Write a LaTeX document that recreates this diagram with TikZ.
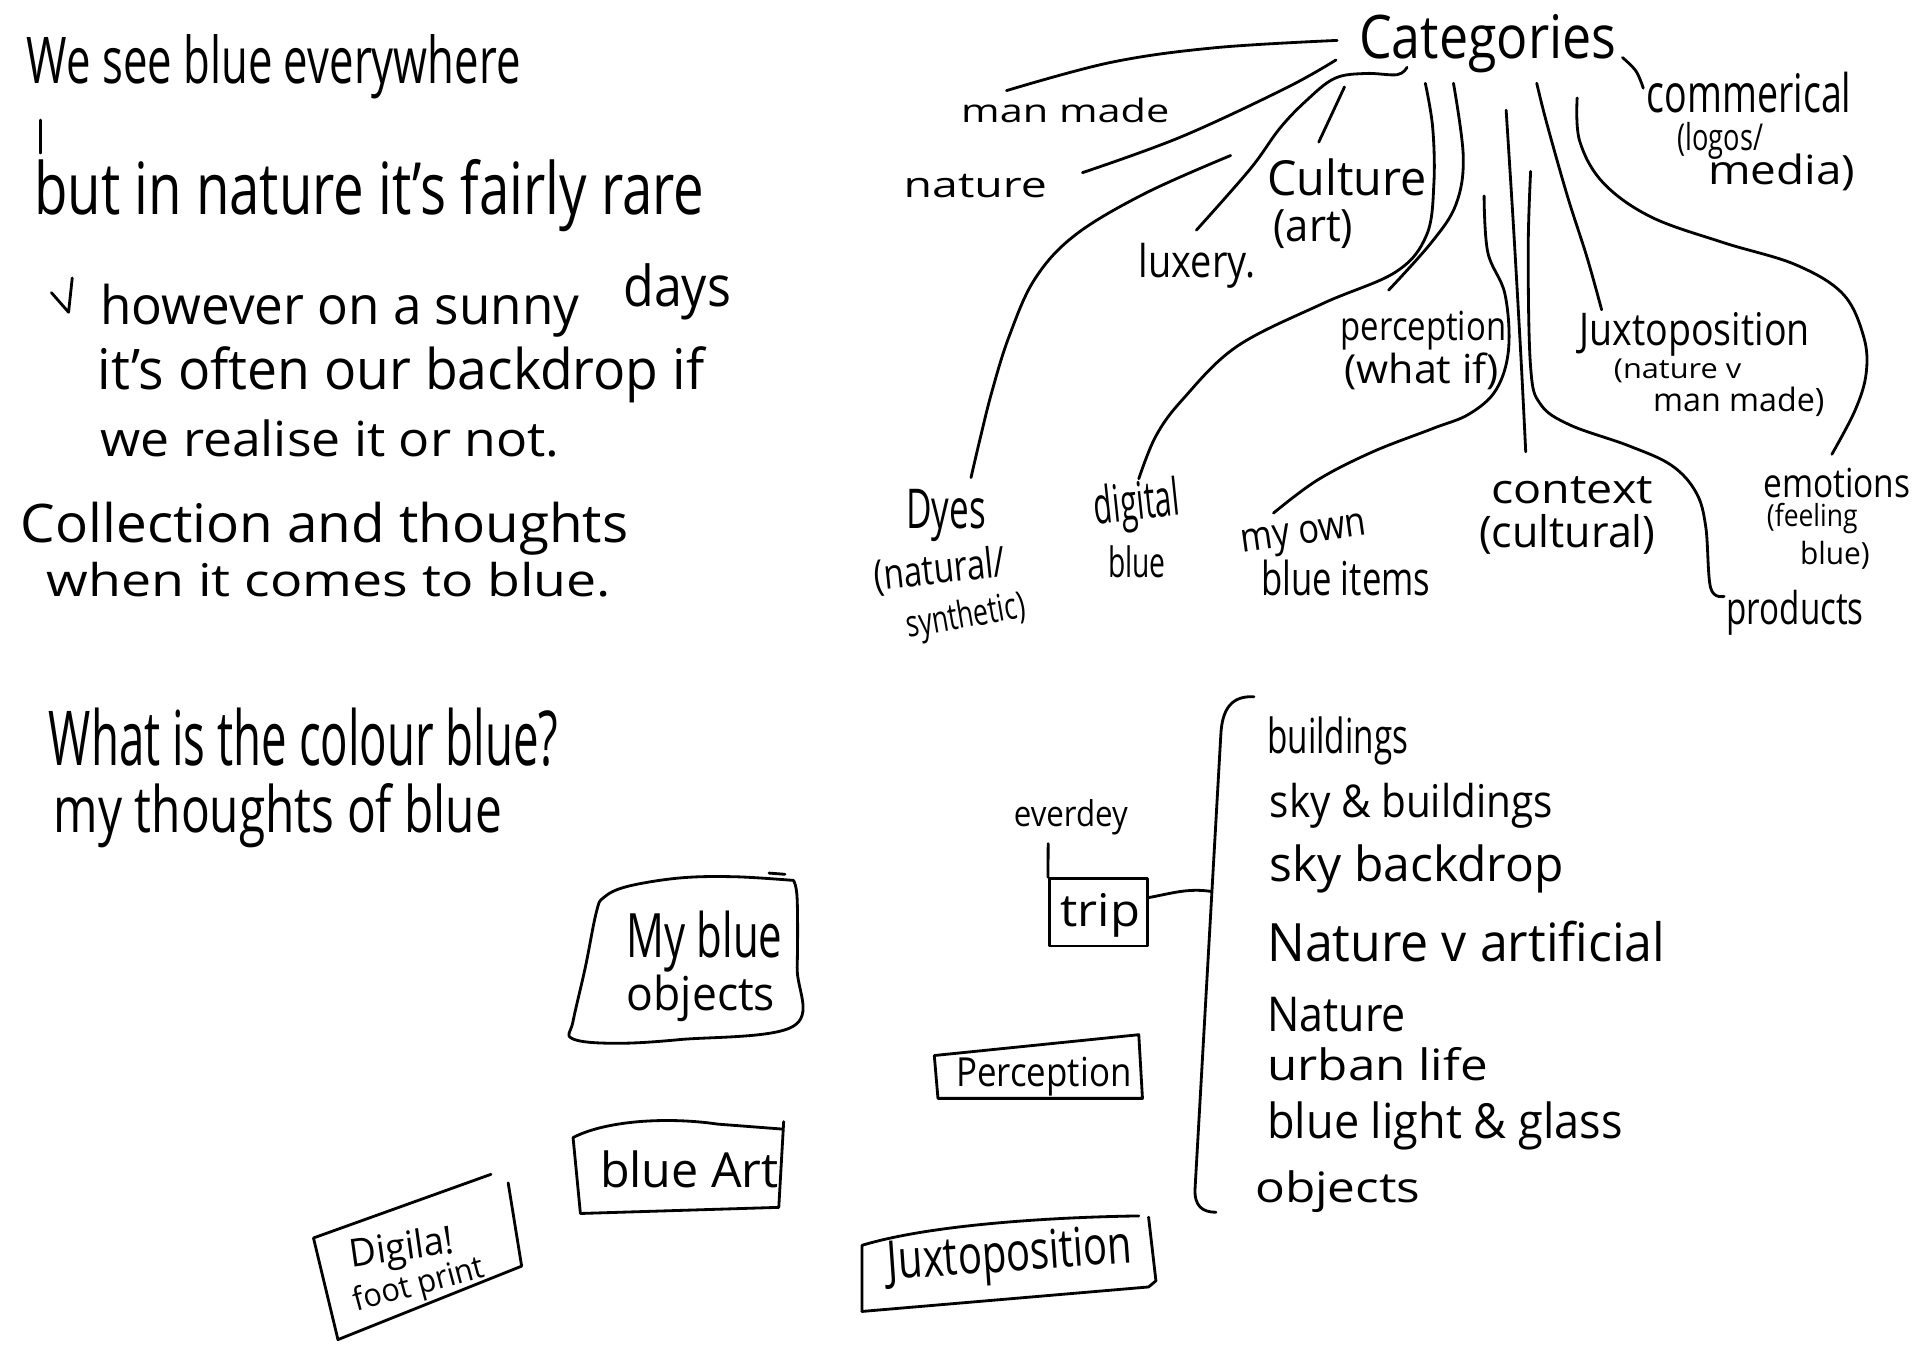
\documentclass[tikz,border=0pt]{standalone}
\usepackage{fontspec}
\setmainfont{Open Sans}
\usepackage{graphicx}
\newcommand{\handw}[3]{\resizebox{#1pt}{#2pt}{#3}}
\begin{document}
\begin{tikzpicture}[x=1pt,y=-1pt, line width=2.3pt, line cap=round, line join=round,
  hw/.style={anchor=base west, inner sep=0pt, outer sep=0pt},
  pen/.style={draw=black, line width=2.3pt},
  sm/.style={smooth, tension=0.6}]
\useasboundingbox[fill=white] (0,0) rectangle (1568,1108);

% ---------- left notes ----------
\node[hw] (t1) at (22,68) {\handw{403}{40}{We see blue everywhere}};
\coordinate (bar1) at (33,98);
\coordinate (bar2) at (33,125);
\draw (bar1) -- (bar2);
\node[hw] (t2) at (28,175) {\handw{547}{45}{but in nature it's fairly rare}};
\coordinate (ar1) at (42,239);
\coordinate (ar2) at (56,255);
\coordinate (ar3) at (59,227);
\draw (ar1) -- (ar2) -- (ar3);
\node[hw] (t3) at (82,265) {\handw{391}{33}{however on a sunny}};
\node[hw] (t3b) at (509,250) {\handw{88}{35}{days}};
\node[hw] (t4) at (80,318) {\handw{495}{35}{it's often our backdrop if}};
\node[hw] (t5) at (82,373) {\handw{375}{30}{we realise it or not.}};
\node[hw] (t6) at (17,443) {\handw{496}{33}{Collection and thoughts}};
\node[hw] (t7) at (38,487) {\handw{461}{28}{when it comes to blue.}};
\node[hw] (t8) at (40,625) {\handw{416}{47}{What is the colour blue?}};
\node[hw] (t9) at (44,680) {\handw{366}{40}{my thoughts of blue}};

% ---------- category tree ----------
\node[hw] (cat) at (1110,48) {\handw{210}{36}{Categories}};
\node[hw] (manmade) at (785,100) {\handw{170}{20}{man made}};
\node[hw] (nature) at (738,161) {\handw{117}{19}{nature}};
\node[hw] (culture) at (1035,160) {\handw{130}{30}{Culture}};
\node[hw] (art) at (1040,197) {\handw{65}{26}{(art)}};
\node[hw] (luxery) at (930,227) {\handw{95}{28}{luxery.}};
\node[hw] (comm) at (1345,92) {\handw{167}{33}{commerical}};
\node[hw] (logos) at (1370,123) {\handw{70}{23}{(logos/}};
\node[hw] (media) at (1395,151) {\handw{120}{25}{media)}};
\node[hw] (perc) at (1095,278) {\handw{135}{24}{perception}};
\node[hw] (whatif) at (1098,313) {\handw{126}{25}{(what if)}};
\node[hw] (juxt) at (1290,282) {\handw{188}{27}{Juxtoposition}};
\node[hw] (natv) at (1318,309) {\handw{104}{16}{(nature v}};
\node[hw] (mmade) at (1350,336) {\handw{140}{20}{man made)}};
\node[hw] (dyes) at (740,432) {\handw{65}{32}{Dyes}};
\node[hw, rotate=6] (natural) at (715,482) {\handw{108}{26}{(natural/}};
\node[hw, rotate=10] (synth) at (742,521) {\handw{98}{23}{synthetic)}};
\node[hw, rotate=6] (digital) at (895,428) {\handw{70}{32}{digital}};
\node[hw] (dblue) at (905,472) {\handw{47}{26}{blue}};
\node[hw, rotate=8] (myown) at (1015,451) {\handw{103}{18}{my own}};
\node[hw] (bitems) at (1030,486) {\handw{138}{29}{blue items}};
\node[hw] (context) at (1218,411) {\handw{132}{22}{context}};
\node[hw] (cultural) at (1208,447) {\handw{144}{27}{(cultural)}};
\node[hw] (emot) at (1440,406) {\handw{120}{24}{emotions}};
\node[hw] (feel) at (1443,430) {\handw{74}{19}{(feeling}};
\node[hw] (eblue) at (1470,461) {\handw{57}{19}{blue)}};
\node[hw] (prod) at (1410,510) {\handw{112}{28}{products}};

% connectors of the tree
\draw plot[sm] coordinates {(1092,33) (992,39) (907,51) (822,74)};
\draw plot[sm] coordinates {(1091,49) (1050,72) (964,112) (884,141)};
\draw plot[sm] coordinates {(1005,127) (935,158) (878,192) (845,228) (824,275) (810,320) (800,360) (793,390)};
\draw plot[sm] coordinates {(1149,55) (1141,61) (1115,60) (1090,64) (1067,82) (1045,105) (1021,138) (977,188)};
\draw plot[sm] coordinates {(1098,71) (1077,116)};
\draw plot[sm] coordinates {(1164,68) (1170,104) (1171,150) (1165,192) (1140,222) (1080,248) (1010,283) (966,326) (944,356) (930,391)};
\draw plot[sm] coordinates {(1187,68) (1195,128) (1189,167) (1169,198) (1134,237)};
\draw plot[sm] coordinates {(1212,160) (1215,206) (1229,240) (1232,285) (1222,318) (1200,338) (1170,350) (1121,369) (1076,392) (1040,419)};
\draw plot[sm] coordinates {(1230,90) (1236,185) (1242,290) (1246,369)};
\draw plot[sm] coordinates {(1255,68) (1263,100) (1280,160) (1296,210) (1308,253)};
\draw plot[sm] coordinates {(1250,140) (1248,206) (1250,300) (1258,330) (1282,347) (1330,364) (1365,380) (1385,402) (1393,430) (1397,480) (1408,487)};
\draw plot[sm] coordinates {(1288,80) (1290,115) (1309,149) (1348,177) (1407,198) (1466,216) (1505,240) (1522,275) (1524,305) (1515,335) (1496,371)};
\draw plot[sm] coordinates {(1325,47) (1336,58) (1342,72)};

% ---------- boxes ----------
\draw plot[sm] coordinates {(648,719) (600,716) (555,717) (512,724) (493,733) (487,745) (478,790) (468,834) (467,848) (500,852) (555,849) (648,838) (651,790) (651,734) (648,719)};
\draw (628,713) -- (641,714);
\node[hw] (mb1) at (512,782) {\handw{127}{38}{My blue}};
\node[hw] (mb2) at (512,825) {\handw{121}{29}{objects}};

\draw (640,916) -- (636,986) -- (474,991) -- (468,929) .. controls (495,915) and (545,912) .. (586,918) -- (638,922);
\node[hw] (ba) at (490,970) {\handw{146}{30}{blue Art}};

\draw (401,959) -- (256,1011) -- (276,1094) -- (426,1034) -- (415,966);
\node[hw, rotate=8] (dg1) at (287,1035) {\handw{86}{24}{Digila!}};
\node[hw, rotate=15] (dg2) at (291,1071) {\handw{110}{20}{foot print}};

\draw (763,862) -- (930,845) -- (933,897) -- (766,897) -- cycle;
\node[hw] (percbox) at (781,887) {\handw{143}{24}{Perception}};

\draw (704,1071) -- (704,1017) .. controls (760,1000) and (860,994) .. (930,993);
\draw (938,994) -- (944,1046) -- (938,1051) -- (704,1071);
\node[hw, rotate=4] (juxbox) at (726,1045) {\handw{200}{32}{Juxtoposition}};

\node[hw] (everdey) at (828,675) {\handw{93}{22}{everdey}};
\node[pen, minimum width=80pt, minimum height=55pt, inner sep=0pt] (trip) at (897,745) {};
\node[hw] (triptext) at (866,757) {\handw{65}{27}{trip}};
\coordinate (ev) at (856,689);
\draw (ev) -- (trip.north west);

% bracket and list
\draw (1024,569) .. controls (1005,568) and (998,580) .. (997,600) -- (976,970) .. controls (975,985) and (982,990) .. (993,990);
\coordinate (brk) at (989,728);
\draw ([yshift=12pt]trip.east) .. controls (955,730) and (970,725) .. (brk);

\node[hw] (i1) at (1035,615) {\handw{115}{30}{buildings}};
\node[hw] (i2) at (1037,668) {\handw{231}{28}{sky \& buildings}};
\node[hw] (i3) at (1037,720) {\handw{240}{30}{sky backdrop}};
\node[hw] (i4) at (1035,785) {\handw{325}{33}{Nature v artificial}};
\node[hw] (i5) at (1035,842) {\handw{113}{28}{Nature}};
\node[hw] (i6) at (1035,882) {\handw{180}{27}{urban life}};
\node[hw] (i7) at (1035,930) {\handw{290}{30}{blue light \& glass}};
\node[hw] (i8) at (1025,982) {\handw{135}{26}{objects}};
\end{tikzpicture}
\end{document}
